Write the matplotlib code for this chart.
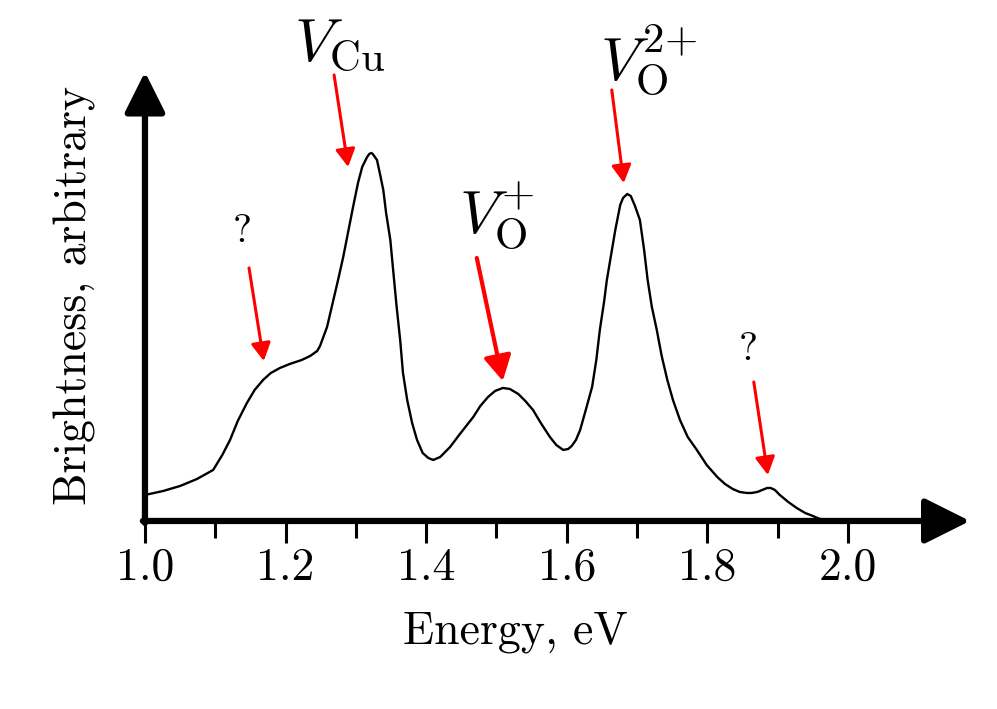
import matplotlib
matplotlib.use("Agg")
import matplotlib.pyplot as plt

plt.rcParams['font.family'] = 'serif'
plt.rcParams['font.serif'] = ['cmr10']
plt.rcParams['mathtext.fontset'] = 'cm'
plt.rcParams['axes.formatter.use_mathtext'] = True

# spectrum (energy in eV, brightness in arbitrary units)
energy = [1.000, 1.026, 1.050, 1.074, 1.097, 1.110, 1.121, 1.132, 1.145, 1.156,
          1.168, 1.179, 1.192, 1.206, 1.223, 1.235, 1.245, 1.249, 1.259, 1.267,
          1.275, 1.282, 1.289, 1.296, 1.303, 1.309, 1.316, 1.319, 1.322, 1.324,
          1.327, 1.330, 1.334, 1.339, 1.343, 1.349, 1.353, 1.358, 1.363, 1.367,
          1.373, 1.380, 1.387, 1.395, 1.403, 1.410, 1.420, 1.434, 1.448, 1.467,
          1.477, 1.488, 1.498, 1.509, 1.519, 1.531, 1.541, 1.552, 1.563, 1.576,
          1.585, 1.595, 1.602, 1.607, 1.613, 1.619, 1.627, 1.636, 1.642, 1.647,
          1.653, 1.657, 1.663, 1.669, 1.676, 1.680, 1.686, 1.691, 1.697, 1.704,
          1.710, 1.715, 1.721, 1.728, 1.735, 1.743, 1.751, 1.761, 1.772, 1.785,
          1.799, 1.814, 1.825, 1.836, 1.846, 1.856, 1.863, 1.871, 1.878, 1.885,
          1.890, 1.896, 1.903, 1.915, 1.927, 1.939, 1.950, 1.960, 1.974]
brightness = [26, 30, 35, 42, 51, 66, 81, 100, 118, 131,
              141, 148, 153, 157, 161, 165, 170, 175, 194, 218,
              242, 264, 289, 314, 338, 354, 364, 367, 368, 367,
              364, 361, 348, 331, 308, 281, 251, 214, 181, 148,
              121, 98, 81, 68, 63, 61, 64, 74, 87, 104,
              115, 124, 130, 133, 132, 127, 120, 111, 98, 84,
              76, 71, 72, 75, 81, 91, 111, 134, 161, 191,
              219, 241, 266, 291, 316, 323, 327, 325, 315, 301,
              271, 241, 214, 191, 165, 141, 121, 101, 84, 71,
              56, 44, 37, 32, 29, 28, 28, 29, 31, 33,
              33, 31, 26, 19, 13, 8, 5, 2, 1]

ticks = [1.0, 1.2, 1.4, 1.6, 1.8, 2.0]
tick_labels = ['1.0', '1.2', '1.4', '1.6', '1.8', '2.0']
minor_ticks = [1.1, 1.3, 1.5, 1.7, 1.9]

# labels: text, text position, arrow tail, arrow tip
labels = [r'$V_{\mathrm{Cu}}$', r'$V_{\mathrm{O}}^{{+}}$', r'$V_{\mathrm{O}}^{2{+}}$', '?', '?']
label_pos = [(1.277, 476), (1.501, 306), (1.716, 461), (1.139, 289), (1.858, 171)]
arrow_tail = [(1.269, 446), (1.472, 263), (1.664, 431), (1.148, 253), (1.866, 139)]
arrow_tip = [(1.289, 354), (1.509, 140), (1.681, 338), (1.169, 160), (1.886, 46)]
label_size = [44, 44, 44, 29, 29]

fig = plt.figure(figsize=(9.97, 7.09), dpi=100)
ax = fig.add_axes([0.1454, 0.2652, 0.8275, 0.6333])
x_end, y_end = 2.1735, 449
ax.set_xlim(1.0, x_end)
ax.set_ylim(0, y_end)

ax.plot(energy, brightness, color='black', lw=1.7, clip_on=False)

for s in ax.spines.values():
    s.set_visible(False)

# axes with arrow heads
ax.annotate('', xy=(x_end, 0), xytext=(1.0 - 0.003, 0),
            arrowprops=dict(arrowstyle='-|>,head_length=0.4,head_width=0.2',
                            mutation_scale=70, lw=4.5, color='black',
                            shrinkA=0, shrinkB=0), annotation_clip=False)
ax.annotate('', xy=(1.0, y_end), xytext=(1.0, -2),
            arrowprops=dict(arrowstyle='-|>,head_length=0.4,head_width=0.2',
                            mutation_scale=62, lw=4.5, color='black',
                            shrinkA=0, shrinkB=0), annotation_clip=False)

ax.set_xticks(ticks)
ax.set_xticklabels(tick_labels, fontsize=33)
ax.set_xticks(minor_ticks, minor=True)
ax.tick_params(axis='x', which='major', direction='out', length=16, width=2.2, pad=3)
ax.tick_params(axis='x', which='minor', direction='out', length=12, width=2.2)
ax.set_yticks([])

fig.text(0.5165, 0.108, 'Energy, eV', fontsize=33, ha='center', va='center')
fig.text(0.075, 0.584, 'Brightness, arbitrary', fontsize=33, rotation=90,
         ha='center', va='center')

for i in range(len(labels)):
    ax.text(label_pos[i][0], label_pos[i][1], labels[i], fontsize=label_size[i],
            ha='center', va='center', clip_on=False)
    ms = 38 if i == 1 else 27
    lw = 3.0 if i == 1 else 2.2
    ax.annotate('', xy=arrow_tip[i], xytext=arrow_tail[i],
                arrowprops=dict(arrowstyle='-|>,head_length=0.4,head_width=0.22',
                                mutation_scale=ms, lw=lw, color='#ff0000',
                                shrinkA=0, shrinkB=0), annotation_clip=False)

fig.savefig('out.png', dpi=100)
